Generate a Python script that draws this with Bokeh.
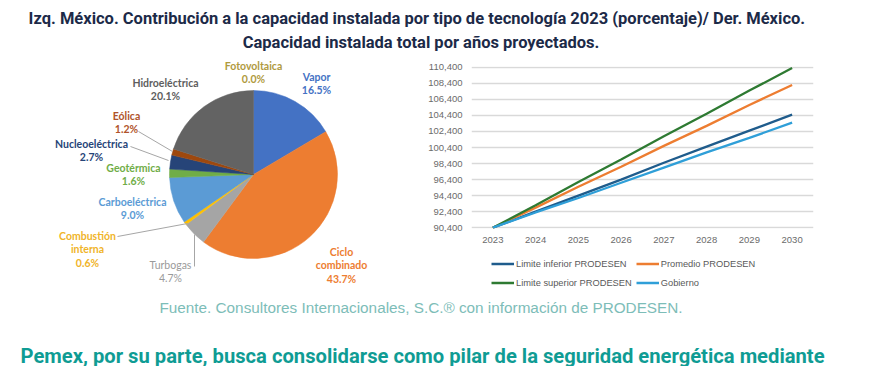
import numpy as np
from bokeh.plotting import figure
from bokeh.models import (Range1d, FactorRange, ColumnDataSource, FixedTicker,
                          NumeralTickFormatter, Legend, LegendItem)
from bokeh.layouts import column, row
from bokeh.core.properties import value
from bokeh.embed import file_html
from bokeh.resources import INLINE

# ---------------- data ----------------
TITLE_1 = "Izq. México.  Contribución a la capacidad instalada por tipo de tecnología 2023 (porcentaje)/ Der.   México."
TITLE_2 = "Capacidad instalada total por años proyectados."
SOURCE = "Fuente. Consultores Internacionales, S.C.® con información de PRODESEN."
FOOTER = "Pemex, por su parte, busca consolidarse como pilar de la seguridad energética mediante"

tech = ["Vapor", "Ciclo combinado", "Turbogas", "Combustión interna", "Carboeléctrica",
        "Geotérmica", "Nucleoeléctrica", "Eólica", "Hidroeléctrica", "Fotovoltaica"]
share = [16.5, 43.7, 4.7, 0.6, 9.0, 1.6, 2.7, 1.2, 20.1, 0.0]
tech_colors = ["#4472C4", "#ED7D31", "#A5A5A5", "#FFC000", "#5B9BD5",
               "#70AD47", "#264478", "#9E480E", "#636363", "#997300"]
label_colors = ["#4472C4", "#ED7D31", "#9A9A9A", "#F0B429", "#5B9BD5",
                "#70AD47", "#264478", "#B0532A", "#5E5E5E", "#B09A3E"]

years = ["2023", "2024", "2025", "2026", "2027", "2028", "2029", "2030"]
lim_inf = [90400, 92400, 94400, 96400, 98500, 100500, 102500, 104500]
promedio = [90400, 92900, 95500, 98000, 100600, 103100, 105700, 108200]
lim_sup = [90400, 93200, 96100, 98900, 101800, 104600, 107500, 110300]
gobierno = [90400, 92300, 94100, 96000, 97900, 99800, 101600, 103500]
series_names = ["Limite inferior PRODESEN", "Promedio PRODESEN",
                "Limite superior PRODESEN", "Gobierno"]
series_colors = ["#1F5C8C", "#ED7D31", "#2E7A32", "#2F9FD8"]
y_tick_values = [90400, 92400, 94400, 96400, 98400, 100400,
                 102400, 104400, 106400, 108400, 110400]

# ---------------- layout (picture pixel coordinates) ----------------
def Y(py):
    return -py

LABEL_FONT = "Lato"
TITLE_FONT = "Roboto"

label_layout = {
    "Vapor": (316, 76, ["Vapor"]),
    "Ciclo combinado": (341, 251, ["Ciclo", "combinado"]),
    "Turbogas": (170, 264, ["Turbogas"]),
    "Combustión interna": (87, 235, ["Combustión", "interna"]),
    "Carboeléctrica": (132, 201, ["Carboeléctrica"]),
    "Geotérmica": (133, 167, ["Geotérmica"]),
    "Nucleoeléctrica": (91, 143, ["Nucleoeléctrica"]),
    "Eólica": (126, 115, ["Eólica"]),
    "Hidroeléctrica": (165, 82, ["Hidroeléctrica"]),
    "Fotovoltaica": (253, 65, ["Fotovoltaica"]),
}
leaders = {
    "Eólica": ([138, 172], [131, 151]),
    "Nucleoeléctrica": ([130, 168], [146, 160]),
    "Combustión interna": ([117, 187], [236, 223]),
    "Turbogas": ([194, 194], [266, 234]),
}
LINE_STEP = 13.5

# ---------------- title figure ----------------
tf = figure(width=861, height=52, x_range=Range1d(0, 861), y_range=Range1d(-52, 0),
            output_backend="svg", toolbar_location=None,
            x_axis_location=None, y_axis_location=None, min_border=0)
tf.grid.visible = False
tf.outline_line_color = None
tf.text(x=[422.5, 420.5], y=[Y(18), Y(42)], text=[TITLE_1, TITLE_2],
        text_font=value(TITLE_FONT), text_font_style="bold", text_font_size="16.5px",
        text_color="#1C2A48", text_align="center", text_baseline="middle")

# ---------------- pie figure ----------------
pf = figure(width=420, height=238, x_range=Range1d(0, 420), y_range=Range1d(-290, -52),
            output_backend="svg", toolbar_location=None,
            x_axis_location=None, y_axis_location=None, min_border=0)
pf.grid.visible = False
pf.outline_line_color = None

vals = np.array(share, dtype=float)
frac = vals / vals.sum()
cum = np.concatenate([[0.0], np.cumsum(frac)])
start = np.pi / 2 - 2 * np.pi * cum[:-1]
end = np.pi / 2 - 2 * np.pi * cum[1:]
keep = vals > 0
pie_src = ColumnDataSource(dict(start=start[keep], end=end[keep],
                                color=[c for c, k in zip(tech_colors, keep) if k]))
pf.wedge(x=253, y=Y(174), radius=84, start_angle="start", end_angle="end",
         direction="clock", fill_color="color", line_color="color", line_width=0.5,
         source=pie_src)

for name, (lx, ly) in leaders.items():
    pf.line(x=lx, y=[Y(v) for v in ly], line_color="#A6A6A6", line_width=1)

tx, ty, tt, tc, tw = [], [], [], [], []
for name, pct, col in zip(tech, share, label_colors):
    cx, y0, lines = label_layout[name]
    lines = lines + [f"{pct:.1f}%"]
    for i, s in enumerate(lines):
        tx.append(cx)
        ty.append(Y(y0 + i * LINE_STEP))
        tt.append(s)
        tc.append(col)
        tw.append("normal" if name == "Turbogas" else "bold")
lab_src = ColumnDataSource(dict(x=tx, y=ty, text=tt, color=tc, weight=tw))
pf.text(x="x", y="y", text="text", text_color="color", text_font_style="weight",
        text_font=value(LABEL_FONT), text_font_size="10.5px",
        text_align="center", text_baseline="middle", source=lab_src)

# ---------------- line chart ----------------
lf = figure(width=441, height=200, x_range=FactorRange(*years),
            y_range=Range1d(90300, 110500),
            output_backend="svg", toolbar_location=None,
            min_border_left=51, min_border_right=48, min_border_top=14, min_border_bottom=24)
lf.outline_line_color = None
lf.xgrid.visible = False
lf.ygrid.ticker = FixedTicker(ticks=y_tick_values)
lf.ygrid.grid_line_color = "#D9D9D9"
lf.ygrid.grid_line_width = 1.3
lf.yaxis.ticker = FixedTicker(ticks=y_tick_values)
lf.yaxis.formatter = NumeralTickFormatter(format="0,0")
for ax in (lf.xaxis, lf.yaxis):
    ax.axis_line_color = None
    ax.major_tick_line_color = None
    ax.minor_tick_line_color = None
    ax.major_tick_in = 0
    ax.major_tick_out = 0
    ax.major_label_text_font = "Liberation Sans"
    ax.major_label_text_font_size = "9.5px"
    ax.major_label_text_color = "#6B6B6B"
lf.yaxis.major_label_standoff = 9
lf.xaxis.major_label_standoff = 8

all_series = [lim_inf, promedio, lim_sup, gobierno]
for vals_s, col in zip(all_series, series_colors):
    lf.line(x=years, y=vals_s, line_color=col, line_width=2.3)

# legend strip below the chart (same series, outside its visible range)
legf = figure(width=441, height=38, x_range=FactorRange(*years), y_range=Range1d(0, 1),
              output_backend="svg", toolbar_location=None,
              x_axis_location=None, y_axis_location=None,
              min_border_left=51, min_border_right=48, min_border_top=0, min_border_bottom=0)
legf.grid.visible = False
legf.outline_line_color = None
leg_renderers = []
for vals_s, col in zip(all_series, series_colors):
    leg_renderers.append(legf.line(x=years, y=vals_s, line_color=col, line_width=2.5))

legend = Legend(items=[LegendItem(label=n, renderers=[r]) for n, r in zip(series_names, leg_renderers)],
                location=(20, 0), orientation="horizontal", ncols=2,
                glyph_width=23, glyph_height=15, label_height=15, label_standoff=2,
                spacing=4, padding=0, margin=0, border_line_color=None,
                background_fill_alpha=0, label_text_font="Liberation Sans",
                label_text_font_size="9.3px", label_text_color="#595959")
legf.add_layout(legend, "center")

# ---------------- bottom figure ----------------
bf = figure(width=861, height=76, x_range=Range1d(0, 861), y_range=Range1d(-366, -290),
            output_backend="svg", toolbar_location=None,
            x_axis_location=None, y_axis_location=None, min_border=0)
bf.grid.visible = False
bf.outline_line_color = None
bf.text(x=[420.5], y=[Y(306.5)], text=[SOURCE], text_font=value("Liberation Sans"),
        text_font_size="15.3px", text_color="#7DBDB8", text_align="center",
        text_baseline="middle")
bf.text(x=[20], y=[Y(355)], text=[FOOTER], text_font=value(TITLE_FONT),
        text_font_style="bold", text_font_size="20.2px", text_color="#0F9C94",
        text_align="left", text_baseline="middle")

p = column(tf, row(column(pf), column(lf, legf, spacing=0), spacing=0), bf, spacing=0)
open("out.html", "w").write(file_html(p, INLINE))
